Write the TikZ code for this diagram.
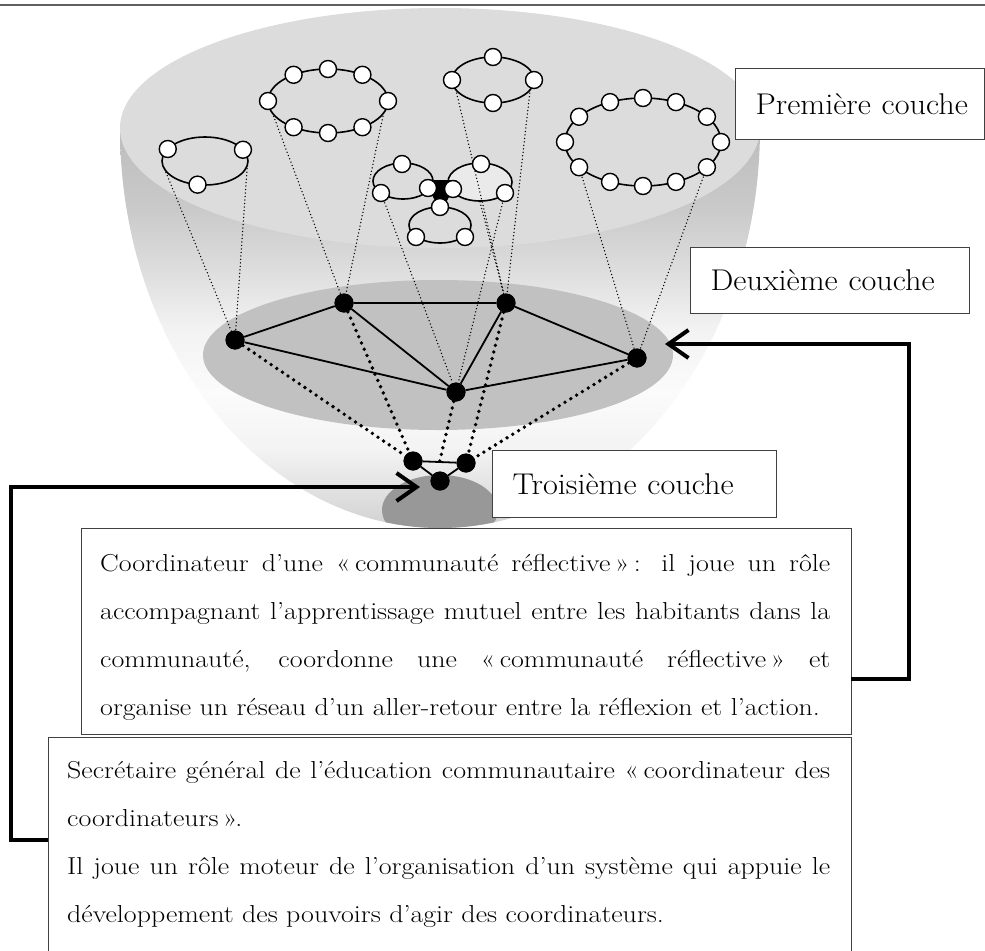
\documentclass[tikz,border=0pt]{standalone}
\usepackage{fontspec}
\usepackage{graphicx}
\usetikzlibrary{arrows.meta,shapes.geometric,calc}
\definecolor{topell}{RGB}{220,220,220}
\definecolor{midell}{RGB}{193,193,193}
\definecolor{lowell}{RGB}{152,152,152}
\definecolor{boxline}{RGB}{64,64,64}
\definecolor{ruleline}{RGB}{96,96,96}
\definecolor{lightfill}{RGB}{234,234,234}
\pgfdeclareverticalshading{bowlshade}{100bp}{rgb(0bp)=(.82,.82,.82); rgb(25bp)=(.82,.82,.82); rgb(35bp)=(.955,.955,.955); rgb(42bp)=(.985,.985,.985); rgb(50bp)=(.95,.95,.95); rgb(58bp)=(.86,.86,.86); rgb(65bp)=(.79,.79,.79); rgb(75bp)=(.74,.74,.74); rgb(100bp)=(.74,.74,.74)}
\newcommand\bodyfont{\fontsize{24.5bp}{48bp}\selectfont}
\newcommand\lblfont{\fontsize{30bp}{36bp}\selectfont}
\newcommand\jline[2]{\scalebox{1.14}[1]{\makebox[#1][s]{#2}}}
\newcommand\nline[1]{\scalebox{1.14}[1]{#1}}
\newcommand\lbltext[1]{\scalebox{1.075}[1]{#1}}
\begin{document}
\begin{tikzpicture}[x=1bp,y=-1bp,
  wc/.style={circle,draw=black,fill=white,line width=1.4bp,minimum size=17bp,inner sep=0pt},
  bd/.style={circle,fill=black,minimum size=19bp,inner sep=0pt},
  ring/.style={ellipse,draw=black,line width=1.6bp,inner sep=0pt},
  thin dots/.style={line width=1.5bp,dash pattern=on 0bp off 3.5bp,line cap=round},
  fat dots/.style={line width=3.8bp,dash pattern=on 0bp off 6.8bp,line cap=round},
  soledge/.style={line width=1.8bp},
  boxst/.style={rectangle,draw=boxline,fill=white,line width=1.3bp,inner sep=0pt},
  lbl/.style={boxst,anchor=north west,align=left,inner xsep=20bp,inner ysep=0pt,font=\lblfont},
  conn/.style={line width=4bp,line join=miter,-{Straight Barb[length=20bp,width=28bp]}}]
\useasboundingbox (0,0) rectangle (985,951);
% top rule
\draw[ruleline,line width=2bp] (0,5) -- (985,5);
% bowl
\shade[shading=bowlshade] (120,128) arc[start angle=180,end angle=360,x radius=320bp,y radius=400bp] -- cycle;
\fill[topell] (440,128) ellipse [x radius=320bp,y radius=120bp];
\fill[midell] (438,355) ellipse [x radius=235bp,y radius=75bp];
\begin{scope}
  \clip (120,128) arc[start angle=180,end angle=360,x radius=320bp,y radius=400bp] -- cycle;
  \fill[lowell] (440,510) ellipse [x radius=58bp,y radius=35bp];
\end{scope}
% first-layer rings (outlines)
\node[ring,minimum width=86bp,minimum height=48bp] (r1) at (205,161) {};
\node[ring,minimum width=120bp,minimum height=64bp] (r2) at (328,101) {};
\node[ring,minimum width=82bp,minimum height=46bp] (r3) at (493,80) {};
\node[ring,minimum width=156bp,minimum height=88bp] (r5) at (643,142) {};
\node[ring,minimum width=60bp,minimum height=36bp] (c1) at (403,181) {};
\node[ring,fill=lightfill,minimum width=64bp,minimum height=38bp] (c2) at (480,182) {};
\node[ring,minimum width=62bp,minimum height=36bp] (c3) at (440,225) {};
% second and third layer nodes
\node[bd] (A) at (235,340) {};
\node[bd] (B) at (344,303) {};
\node[bd] (C) at (506,303) {};
\node[bd] (D) at (456,392) {};
\node[bd] (E) at (637,358) {};
\node[bd] (F) at (413,461) {};
\node[bd] (G) at (466,463) {};
\node[bd] (H) at (440,481) {};
\coordinate (FGm) at ($(F)!0.5!(G)$);
% anchor points on the rings
\path (r1) ++(200:43bp and 24bp) coordinate (r1L);
\path (r1) ++(-10:43bp and 24bp) coordinate (r1R);
\path (r2) ++(202:60bp and 32bp) coordinate (r2L);
\path (r2) ++(338:60bp and 32bp) coordinate (r2R);
\path (r3) ++(205:41bp and 23bp) coordinate (r3L);
\path (r3) ++(335:41bp and 23bp) coordinate (r3R);
\path (r5) ++(215:78bp and 44bp) coordinate (r5L);
\path (r5) ++(325:78bp and 44bp) coordinate (r5R);
\coordinate (c1l) at (381,193);
\coordinate (c2r) at (505,193);
% thin dotted projections
\draw[thin dots] (r1L) -- (A);
\draw[thin dots] (r1R) -- (A);
\draw[thin dots] (r2L) -- (B);
\draw[thin dots] (r2R) -- (B);
\draw[thin dots] (r3L) -- (C);
\draw[thin dots] (r3R) -- (C);
\draw[thin dots] (c1l) -- (D);
\draw[thin dots] (c2.south) -- (C);
\draw[thin dots] (c2r) -- (D);
\draw[thin dots] (r5L) -- (E);
\draw[thin dots] (r5R) -- (E);
% cluster black core
\fill[black,rounded corners=3bp] (424,180) -- (458,180) -- (441,212) -- cycle;
% white circles
\foreach \a [count=\i] in {150,28,260} \path (r1) ++(\a:43bp and 24bp) node[wc] (r1c\i) {};
\foreach \a [count=\i] in {0,55,90,125,180,235,270,305} \path (r2) ++(\a:60bp and 32bp) node[wc] (r2c\i) {};
\foreach \a [count=\i] in {0,90,180,270} \path (r3) ++(\a:41bp and 23bp) node[wc] (r3c\i) {};
\foreach \a [count=\i] in {0,35,65,90,115,145,180,215,245,270,295,325} \path (r5) ++(\a:78bp and 44bp) node[wc] (r5c\i) {};
\node[wc] (c1a) at (402,164) {};
\node[wc] (c1b) at (c1l) {};
\node[wc] (c1c) at (428,188) {};
\node[wc] (c2a) at (481,164) {};
\node[wc] (c2b) at (453,189) {};
\node[wc] (c2c) at (c2r) {};
\node[wc] (c3a) at (440,207) {};
\node[wc] (c3b) at (416,237) {};
\node[wc] (c3c) at (465,237) {};
% thick dotted links second -> third layer
\draw[fat dots] (A) -- (F);
\draw[fat dots] (B) -- (F);
\draw[fat dots] (D) -- (FGm);
\draw[fat dots] (C) -- (G);
\draw[fat dots] (E) -- (G);
% solid links
\draw[soledge] (A) -- (B) -- (C) -- (E);
\draw[soledge] (A) -- (D);
\draw[soledge] (B) -- (D);
\draw[soledge] (C) -- (D);
\draw[soledge] (D) -- (E);
\draw[soledge] (F) -- (G) -- (H) -- (F);
% redraw dots on top
\foreach \n in {A,B,C,D,E,F,G,H} \fill[black] (\n) circle[radius=9.5bp];
% labels
\node[lbl,text width=209bp,minimum height=71bp] (l1) at (735,68) {\lbltext{Première couche}};
\node[lbl,text width=239bp,minimum height=66bp] (l2) at (690,247) {\lbltext{Deuxième couche}};
\node[lbl,text width=244bp,minimum height=67bp] (l3) at (492,450) {\lbltext{Troisième couche}};
% text boxes
\node[boxst,anchor=north west,minimum width=770bp,minimum height=206bp] (box1) at (81,528) {};
\node[boxst,anchor=north west,minimum width=803bp,minimum height=232bp] (box2) at (48,737) {};
\node[anchor=base west,inner sep=0pt] (txt1) at (100,571) {\parbox[t]{760bp}{\bodyfont
\jline{640.4bp}{Coordinateur d’une «\,communauté réflective\,»\,: il joue un rôle}\\
\jline{640.4bp}{accompagnant l’apprentissage mutuel entre les habitants dans la}\\
\jline{640.4bp}{communauté, coordonne une «\,communauté réflective\,» et}\\
\nline{organise un réseau d’un aller-retour entre la réflexion et l’action.}}};
\node[anchor=base west,inner sep=0pt] (txt2) at (67,778) {\parbox[t]{790bp}{\bodyfont
\jline{669.3bp}{Secrétaire général de l’éducation communautaire «\,coordinateur des}\\
\nline{coordinateurs\,».}\\
\jline{669.3bp}{Il joue un rôle moteur de l’organisation d’un système qui appuie le}\\
\nline{développement des pouvoirs d’agir des coordinateurs.}}};
% thick connectors
\coordinate (b2L) at (48,840);
\coordinate (elbowL) at (11,487);
\coordinate (tipL) at (420,487);
\coordinate (b1R) at (851,679);
\coordinate (elbowR) at (909,344);
\coordinate (tipR) at (665,344);
\draw[conn] (b2L) -| (elbowL) -- (tipL);
\draw[conn] (b1R) -| (elbowR) -- (tipR);
\end{tikzpicture}
\end{document}
